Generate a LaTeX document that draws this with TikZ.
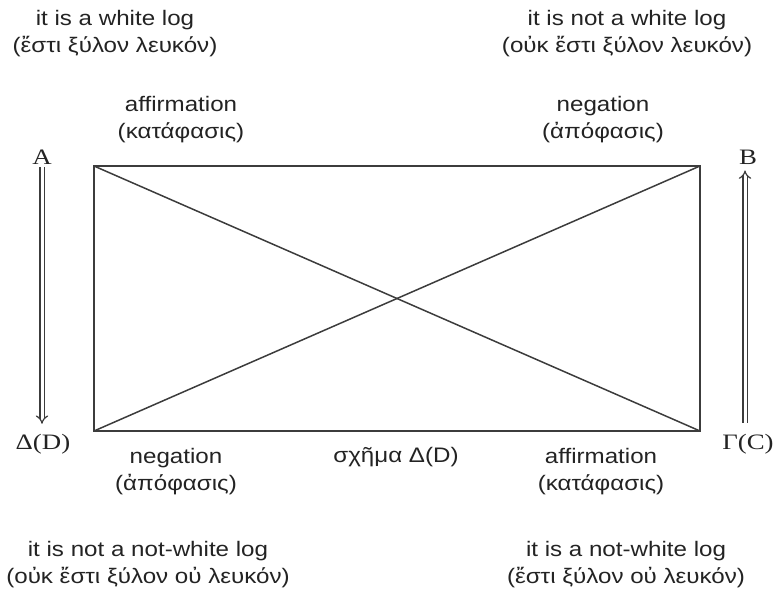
\documentclass[tikz,border=0pt]{standalone}
\usepackage{fontspec}
\setmainfont{Liberation Serif}[FakeStretch=1.22]
\setsansfont{Liberation Sans}[FakeStretch=1.15]
\usetikzlibrary{arrows.meta}
\definecolor{FrameGray}{RGB}{60,60,60}
\definecolor{InkGray}{RGB}{35,35,35}

\tikzset{
  gloss/.style={font=\sffamily\fontsize{21}{27}\selectfont, align=center, text=InkGray, inner sep=1pt},
  corner/.style={font=\fontsize{22}{24}\selectfont, text=InkGray, inner sep=1pt},
  entails/.style={draw=FrameGray, double, double distance=3pt, line width=1.2pt, -{Implies}}
}

\begin{document}
\begin{tikzpicture}[x=1pt, y=-1pt]
          \useasboundingbox (0,0) rectangle (781,599);
          % the square of opposition
          \coordinate (tl) at (94,166);
          \coordinate (tr) at (700,166);
          \coordinate (br) at (700,431);
          \coordinate (bl) at (94,431);
          \draw[FrameGray, line width=2pt] (tl) -- (tr) -- (br) -- (bl) -- cycle;
          \draw[FrameGray, line width=1.5pt] (tl) -- (br);
          \draw[FrameGray, line width=1.5pt] (bl) -- (tr);
          % corners
          \node[corner] (A) at (42,157) {A};
          \node[corner] (B) at (748,157) {B};
          \node[corner] (D) at (43,444) {Δ(D)};
          \node[corner] (C) at (748,444) {Γ(C)};
          \draw[entails, shorten <=2pt, shorten >=9pt] (A.south) -- (A.south |- D.north);
          \draw[entails, shorten <=10pt, shorten >=5pt] ([xshift=-3pt]C.north) -- ([xshift=-3pt]C.north |- B.south);
          % sides
          \node[gloss] (aff1) at (181,120) {affirmation\\(κατάφασις)};
          \node[gloss] (neg1) at (603,120) {negation\\(ἀπόφασις)};
          \node[gloss] (neg2) at (176,472) {negation\\(ἀπόφασις)};
          \node[gloss] (aff2) at (601,472) {affirmation\\(κατάφασις)};
          \node[gloss] (schema) at (396,457) {σχῆμα Δ(D)};
          % propositions
          \node[gloss] (top1) at (115,34) {it is a white log\\(ἔστι ξύλον λευκόν)};
          \node[gloss] (top2) at (627,34) {it is not a white log\\(οὐκ ἔστι ξύλον λευκόν)};
          \node[gloss] (bot1) at (148,565) {it is not a not-white log\\(οὐκ ἔστι ξύλον οὐ λευκόν)};
          \node[gloss] (bot2) at (626,565) {it is a not-white log\\(ἔστι ξύλον οὐ λευκόν)};
        \end{tikzpicture}
\end{document}
